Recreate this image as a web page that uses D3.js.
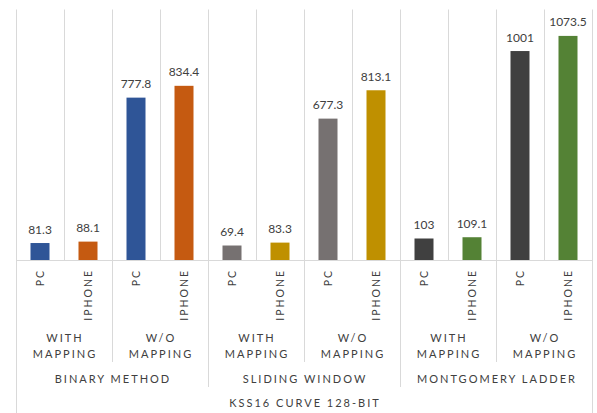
<!DOCTYPE html>
<html><head><meta charset="utf-8">
<script src="https://cdn.jsdelivr.net/npm/d3@7"></script>
<style>body{margin:0;background:#fff}svg{display:block}text{font-family:Lato,"Open Sans",sans-serif;fill:#404040}</style>
</head><body>
<svg id="c" width="597" height="413"></svg>
<script>
const groups = ["BINARY METHOD","SLIDING WINDOW","MONTGOMERY LADDER"];
const subgroups = [["WITH","MAPPING"],["W/O","MAPPING"]];
const devices = ["PC","IPHONE"];
const values = [81.3,88.1,777.8,834.4,69.4,83.3,677.3,813.1,103,109.1,1001,1073.5];
const valueLabels = ["81.3","88.1","777.8","834.4","69.4","83.3","677.3","813.1","103","109.1","1001","1073.5"];
const colors = ["#2F5597","#C55A11","#2F5597","#C55A11","#767171","#BF9000","#767171","#BF9000","#404040","#548235","#404040","#548235"];
const title = "KSS16 CURVE 128-BIT";

const leaves = [];
groups.forEach((g,gi)=>subgroups.forEach((s,si)=>devices.forEach((d,di)=>{
  leaves.push({id:gi+"-"+si+"-"+di, g:gi, s:si, d});
})));
leaves.forEach((l,i)=>{l.v=values[i]; l.lab=valueLabels[i]; l.c=colors[i];});

const svg = d3.select("#c");
const x = d3.scaleBand().domain(leaves.map(l=>l.id)).range([16,592]).paddingInner(0).paddingOuter(0);
const y = d3.scaleLinear().domain([0,1200]).range([260,9.5]);
const bw = 19;
const grid = "#d9d9d9";

const bounds = leaves.map(l=>x(l.id)).concat([x.range()[1]]);
svg.append("g").selectAll("line").data(bounds).join("line")
  .attr("x1",d=>d+0.5).attr("x2",d=>d+0.5).attr("y1",y(1200)).attr("y2",y(0))
  .attr("stroke",grid).attr("stroke-width",1);
svg.append("line").attr("x1",16).attr("x2",592.5).attr("y1",y(0)+0.5).attr("y2",y(0)+0.5).attr("stroke",grid);

const sub = x.bandwidth()*2, grp = x.bandwidth()*4;
const sepLines = [];
for(let i=0;i<=12;i+=2){
  const xx = x.range()[0] + i*x.bandwidth();
  let y2 = 362;
  if(i%4===0) y2 = 387;
  if(i===0||i===12) y2 = 413;
  sepLines.push({x:xx,y2});
}
svg.append("g").selectAll("line").data(sepLines).join("line")
  .attr("x1",d=>d.x+0.5).attr("x2",d=>d.x+0.5).attr("y1",y(0)).attr("y2",d=>d.y2)
  .attr("stroke",grid);

svg.append("g").selectAll("rect").data(leaves).join("rect")
  .attr("x",d=>x(d.id)+x.bandwidth()/2-bw/2).attr("width",bw)
  .attr("y",d=>y(d.v)).attr("height",d=>y(0)-y(d.v)).attr("fill",d=>d.c);

svg.append("g").selectAll("text").data(leaves).join("text")
  .attr("x",d=>x(d.id)+x.bandwidth()/2).attr("y",d=>y(d.v)-9.5)
  .attr("text-anchor","middle").attr("font-size","12px").text(d=>d.lab);

svg.append("g").selectAll("text").data(leaves).join("text")
  .attr("transform",d=>`translate(${x(d.id)+x.bandwidth()/2+4},269) rotate(-90)`)
  .attr("text-anchor","end").attr("font-size","10.5px").attr("letter-spacing","2px").text(d=>d.d);

const subData = [];
groups.forEach((g,gi)=>subgroups.forEach((s,si)=>subData.push({cx:16+(gi*2+si)*sub+sub/2, s})));
const sg = svg.append("g").selectAll("g").data(subData).join("g");
sg.append("text").attr("x",d=>d.cx+1).attr("y",342).attr("text-anchor","middle").attr("font-size","11px").attr("letter-spacing","2px").text(d=>d.s[0]);
sg.append("text").attr("x",d=>d.cx+1).attr("y",358).attr("text-anchor","middle").attr("font-size","11px").attr("letter-spacing","2px").text(d=>d.s[1]);

svg.append("g").selectAll("text").data(groups).join("text")
  .attr("x",(d,i)=>16+i*grp+grp/2+1).attr("y",383).attr("text-anchor","middle")
  .attr("font-size","11px").attr("letter-spacing","2px").text(d=>d);

svg.append("text").attr("x",305).attr("y",407).attr("text-anchor","middle")
  .attr("font-size","11px").attr("letter-spacing","2px").text(title);
</script>
</body></html>
